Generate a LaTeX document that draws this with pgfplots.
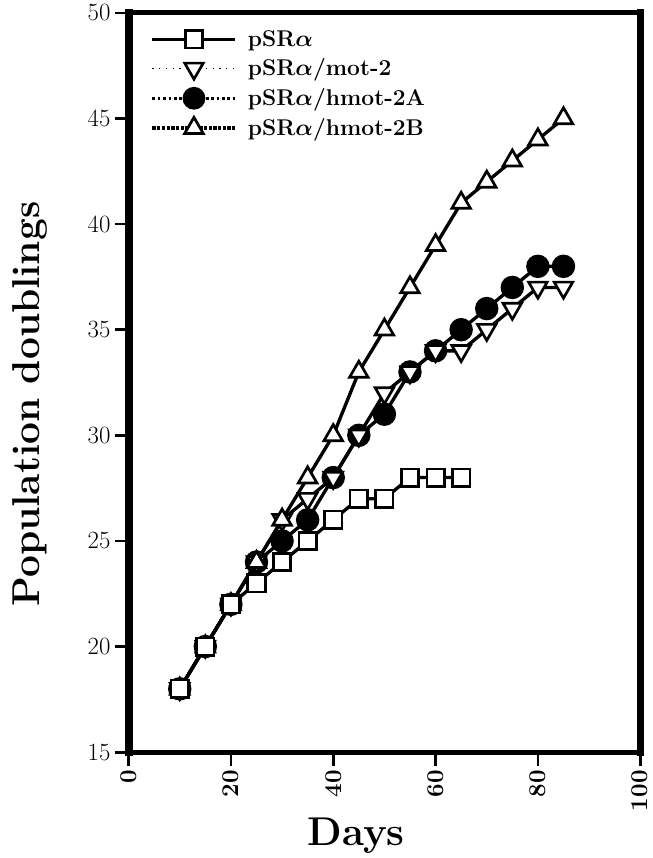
\documentclass[border=0pt]{standalone}
\usepackage{pgfplots}
\pgfplotsset{compat=1.18}

\begin{document}
\begin{tikzpicture}
\begin{axis}[
    scale only axis,
    width=382pt, height=552pt,
    clip=false,
    xmin=0, xmax=100,
    ymin=15, ymax=50,
    xtick={0,20,...,100},
    ytick={15,20,...,50},
    /pgf/number format/assume math mode=true,
    tick align=outside,
    xtick pos=bottom, ytick pos=left,
    major tick length=10pt,
    tick style={line width=2pt, black},
    x tick label style={rotate=90, anchor=east, font=\fontsize{18}{20}\selectfont\bfseries},
    y tick label style={font=\fontsize{18.5}{20}\selectfont},
    xlabel={Days},
    ylabel={Population doublings},
    xlabel style={at={(axis description cs:0.445,-0.113)}, anchor=center,
        font=\fontsize{30}{34}\selectfont\bfseries},
    ylabel style={at={(axis description cs:-0.192,0.471)}, anchor=center,
        font=\fontsize{29}{33}\selectfont\bfseries},
    legend cell align=left,
    legend style={draw=none, fill=none, at={(0.035,0.984)}, anchor=north west,
        font=\fontsize{17}{19}\selectfont\bfseries\boldmath, row sep=4pt},
    legend image code/.code={
        \draw[#1, mark=none] (0pt,0pt) -- (62pt,0pt);
        \draw[#1, only marks] plot coordinates {(31pt,0pt)};
        \path (68pt,0pt);
    },
]

% hmot-2A
\addplot[forget plot, black, line width=2.5pt, mark=*, mark size=7.5pt] coordinates {
(10,18) (15,20) (20,22) (25,24) (30,25) (35,26) (40,28) (45,30) (50,31) (55,33)
(60,34) (65,35) (70,36) (75,37) (80,38) (85,38)
};
% mot-2
\addplot[forget plot, black, line width=2.5pt, mark=triangle*, mark size=8pt,
    mark options={rotate=180, fill=white, line width=2pt}] coordinates {
(10,18) (15,20) (20,22) (25,24) (30,26) (35,27) (40,28) (45,30) (50,32) (55,33)
(60,34) (65,34) (70,35) (75,36) (80,37) (85,37)
};
% hmot-2B
\addplot[forget plot, black, line width=2.5pt, mark=triangle*, mark size=8pt,
    mark options={fill=white, line width=2pt}] coordinates {
(10,18) (15,20) (20,22) (25,24) (30,26) (35,28) (40,30) (45,33) (50,35) (55,37)
(60,39) (65,41) (70,42) (75,43) (80,44) (85,45)
};
% pSRalpha
\addplot[forget plot, black, line width=2.5pt, mark=square*, mark size=6.5pt,
    mark options={fill=white, line width=2pt}] coordinates {
(10,18) (15,20) (20,22) (25,23) (30,24) (35,25) (40,26) (45,27) (50,27) (55,28)
(60,28) (65,28)
};

% heavy frame
\draw[line width=6pt, line cap=rect] (rel axis cs:0,0) -- (rel axis cs:0,1);
\draw[line width=5pt, line cap=rect] (rel axis cs:1,0) -- (rel axis cs:1,1);
\draw[line width=3.5pt, line cap=rect] (rel axis cs:0,1) -- (rel axis cs:1,1);
\draw[line width=4pt, line cap=rect] (rel axis cs:0,0) -- (rel axis cs:1,0);
% page extent
\path (rel axis cs:0,1) ++(-96pt,9pt) coordinate (tl);

\addlegendimage{black, line width=2.5pt, mark=square*, mark size=6.5pt,
    mark options={fill=white, line width=2pt}}
\addlegendentry{pSR$\alpha$}
\addlegendimage{black, line width=1pt, loosely dotted, mark=triangle*, mark size=8pt,
    mark options={solid, line width=2pt, rotate=180, fill=white}}
\addlegendentry{pSR$\alpha$/mot-2}
\addlegendimage{black, line width=2pt, dotted, mark=*, mark size=7.5pt, mark options={solid}}
\addlegendentry{pSR$\alpha$/hmot-2A}
\addlegendimage{black, line width=2.5pt, densely dotted, mark=triangle*, mark size=8pt,
    mark options={solid, fill=white, line width=2pt}}
\addlegendentry{pSR$\alpha$/hmot-2B}

\end{axis}
\end{tikzpicture}
\end{document}
